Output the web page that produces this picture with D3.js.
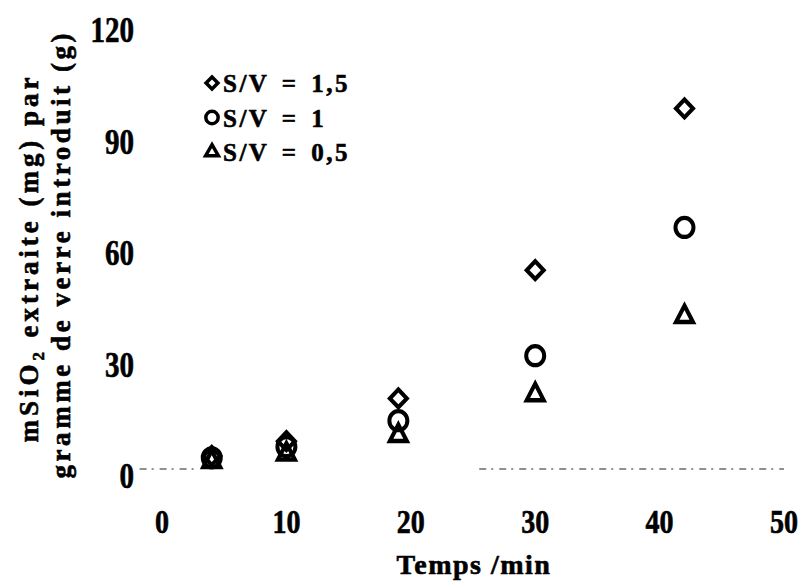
<!DOCTYPE html>
<html>
<head>
<meta charset="utf-8">
<script src="https://cdn.jsdelivr.net/npm/d3@7"></script>
<style>
  html, body { margin: 0; padding: 0; background: #fff; }
  svg { display: block; font-family: "Liberation Serif", "DejaVu Serif", serif; font-weight: bold; }
  svg text { stroke: #000; stroke-width: 0.6px; }
</style>
</head>
<body>
<div id="chart"></div>
<script>
// data
const times = [4, 10, 19, 30, 42];
const sv15 = [3.5, 7.5, 19, 53.5, 97];
const sv1 = [3, 6, 13, 30.5, 65];
const sv05 = [2, 4, 9, 20, 41];
const xTicks = [0, 10, 20, 30, 40, 50];
const yTicks = [0, 30, 60, 90, 120];
const seriesNames = ['S/V = 1,5', 'S/V = 1', 'S/V = 0,5'];

const width = 800, height = 583;

const svg = d3.select('#chart').append('svg')
  .attr('width', width)
  .attr('height', height);

const x = d3.scaleLinear().domain([0, 50]).range([162, 784]);
const y = d3.scaleLinear().domain([0, 120]).range([469, 23]);

// faint remains of the x axis (dashed, broken)
const baseParts = [[-1.8, 2.7], [25.5, 50]];
svg.append('g').selectAll('line')
  .data(baseParts)
  .enter().append('line')
  .attr('x1', d => x(d[0]))
  .attr('x2', d => x(d[1]))
  .attr('y1', y(0))
  .attr('y2', y(0))
  .attr('stroke', '#222')
  .attr('stroke-width', 1.2)
  .attr('stroke-dasharray', '7,5,2,6');

// tick labels (condensed bold serif)
svg.append('g').selectAll('text')
  .data(xTicks)
  .enter().append('text')
  .attr('transform', d => `translate(${x(d)},533) scale(0.85,1.05)`)
  .attr('text-anchor', 'middle')
  .attr('font-size', 33)
  .text(d => d);

svg.append('g').selectAll('text')
  .data(yTicks)
  .enter().append('text')
  .attr('transform', d => `translate(134,${y(d) + 19}) scale(0.88,1.08)`)
  .attr('text-anchor', 'end')
  .attr('font-size', 33)
  .text(d => d);

// axis titles
svg.append('text')
  .attr('x', 474)
  .attr('y', 574)
  .attr('text-anchor', 'middle')
  .attr('font-size', 28)
  .attr('letter-spacing', 1.5)
  .text('Temps /min');

const t1 = svg.append('text')
  .attr('transform', 'translate(38,260) rotate(-90)')
  .attr('text-anchor', 'middle')
  .attr('font-size', 27)
  .attr('textLength', 365)
  .attr('lengthAdjust', 'spacing');
t1.append('tspan').text('mSiO');
t1.append('tspan').attr('font-size', 17).attr('dy', 6).text('2');
t1.append('tspan').attr('dy', -6).text(' extraite (mg) par');

svg.append('text')
  .attr('transform', 'translate(70,256) rotate(-90)')
  .attr('text-anchor', 'middle')
  .attr('font-size', 27)
  .attr('textLength', 445)
  .attr('lengthAdjust', 'spacing')
  .text('gramme de verre introduit (g)');

// markers
const shapes = [
  { data: sv15, type: d3.symbolSquare, size: 144, rot: 45, sy: 1.05 },
  { data: sv1, type: d3.symbolCircle, size: 254, rot: 0, sy: 1.06 },
  { data: sv05, type: d3.symbolTriangle, size: 125, rot: 0, sy: 1.12 }
];

shapes.forEach(s => {
  svg.append('g').selectAll('path')
    .data(times.map((t, i) => [t, s.data[i]]))
    .enter().append('path')
    .attr('d', d3.symbol().type(s.type).size(s.size))
    .attr('transform', d => `translate(${x(d[0])},${y(d[1])}) scale(1,${s.sy}) rotate(${s.rot})`)
    .attr('fill', 'none')
    .attr('stroke', '#000')
    .attr('stroke-width', 4);
});

// legend
const legSizes = [70, 120, 70];
const legend = svg.append('g').selectAll('g')
  .data(seriesNames)
  .enter().append('g')
  .attr('transform', (d, i) => `translate(212,${83 + i * 34.5})`);

legend.append('path')
  .attr('d', (d, i) => d3.symbol().type(shapes[i].type).size(legSizes[i])())
  .attr('transform', (d, i) => `rotate(${shapes[i].rot})`)
  .attr('fill', 'none')
  .attr('stroke', '#000')
  .attr('stroke-width', 3.5);

legend.append('text')
  .attr('x', 11)
  .attr('y', 9)
  .attr('font-size', 25)
  .attr('letter-spacing', 2.5)
  .attr('word-spacing', 4)
  .text(d => d);
</script>
</body>
</html>
